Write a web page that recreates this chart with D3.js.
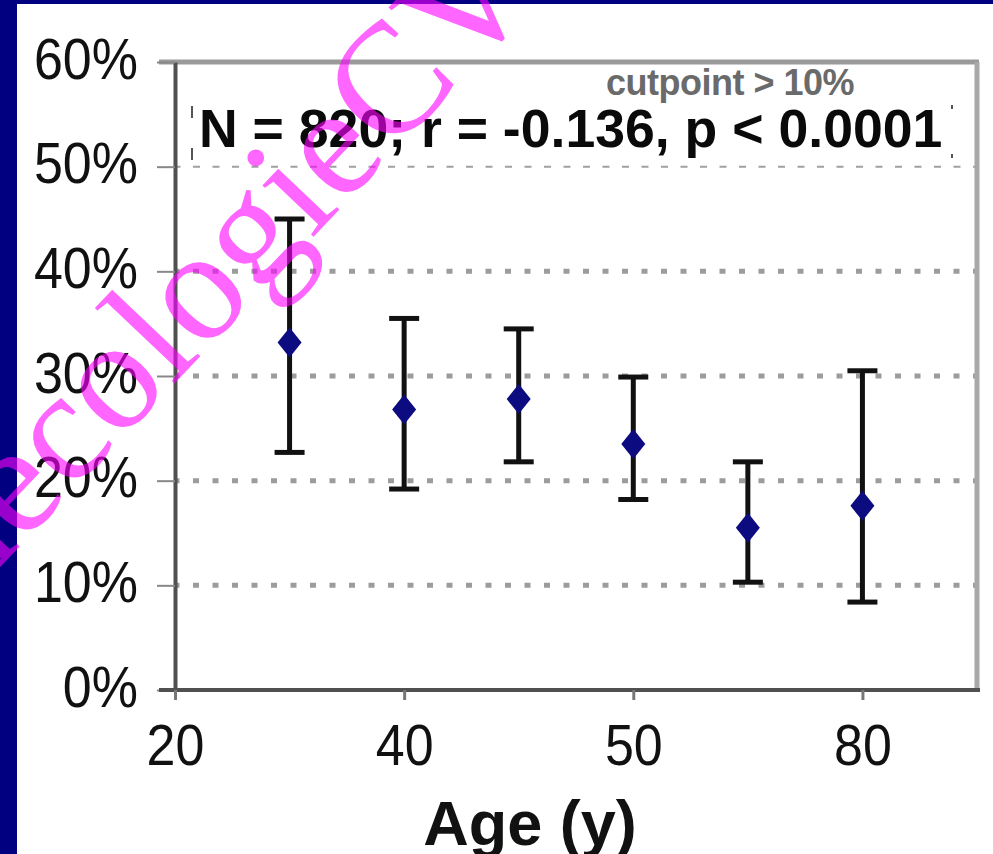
<!DOCTYPE html>
<html>
<head>
<meta charset="utf-8">
<script src="https://cdn.jsdelivr.net/npm/d3@7"></script>
<style>
  html, body { margin: 0; padding: 0; background: #000080; }
  svg { display: block; }
</style>
</head>
<body>
<script>
// data (percent)
var tickLabels = ["20", "40", "50", "80"];
var tickSlots = [0, 2, 4, 6];
var pointSlots = [1, 2, 3, 4, 5, 6];
var means = [33.2, 26.8, 27.8, 23.5, 15.5, 17.6];
var lows = [22.7, 19.2, 21.8, 18.2, 10.3, 8.4];
var highs = [45.0, 35.5, 34.5, 29.9, 21.8, 30.5];
var yTicks = [0, 10, 20, 30, 40, 50, 60];
var gridValues = [10, 20, 30, 40];
var statsText = "N = 820; r = -0.136, p < 0.0001";
var noteText = "cutpoint > 10%";
var xTitle = "Age (y)";

var W = 993, H = 854;
var plot = {left: 175, right: 977, top: 62, bottom: 690};

var x = d3.scaleLinear().domain([0, 7]).range([plot.left, plot.right]);
var y = d3.scaleLinear().domain([0, 60]).range([plot.bottom, plot.top]);

var svg = d3.select("body").append("svg")
    .attr("width", W)
    .attr("height", H);

// navy slide frame + white picture
svg.append("rect").attr("width", W).attr("height", H).attr("fill", "#000080");
svg.append("rect").attr("x", 17).attr("y", 4)
    .attr("width", W - 17).attr("height", H - 4).attr("fill", "#fff");

var font = "'Liberation Sans', Arial, sans-serif";

// dotted gridlines
svg.selectAll(".grid")
    .data(gridValues)
  .enter().append("line")
    .attr("x1", plot.left + 2).attr("x2", plot.right - 2)
    .attr("y1", function(d) { return y(d); })
    .attr("y2", function(d) { return y(d); })
    .attr("stroke", "#9c9c9c")
    .attr("stroke-width", 5)
    .attr("stroke-dasharray", "6,13.5")
    .attr("stroke-dashoffset", 3.5);

// the 50% line is thinner / lighter
svg.append("line")
    .attr("x1", plot.left + 2).attr("x2", plot.right - 2)
    .attr("y1", y(50)).attr("y2", y(50))
    .attr("stroke", "#a0a0a0")
    .attr("stroke-width", 2)
    .attr("stroke-dasharray", "7,12.5")
    .attr("stroke-dashoffset", 3.5);

// top and right frame
svg.append("line")
    .attr("x1", plot.left - 16).attr("x2", plot.right + 2)
    .attr("y1", plot.top).attr("y2", plot.top)
    .attr("stroke", "#9a9a9a").attr("stroke-width", 5);
svg.append("line")
    .attr("x1", plot.right).attr("x2", plot.right)
    .attr("y1", plot.top).attr("y2", plot.bottom)
    .attr("stroke", "#a8a8a8").attr("stroke-width", 5);

// y axis
var yAxis = svg.append("g")
    .attr("transform", "translate(" + plot.left + ",0)")
    .call(d3.axisLeft(y).tickValues(yTicks)
      .tickFormat(function(d) { return d + "%"; })
      .tickSize(18).tickSizeOuter(0).tickPadding(19));
yAxis.select(".domain").attr("stroke", "#505050").attr("stroke-width", 4);
yAxis.selectAll(".tick line").attr("stroke", "#888").attr("stroke-width", 2);
yAxis.selectAll(".tick text")
    .attr("font-family", font).attr("font-size", 52)
    .attr("fill", "#111")
    .attr("dy", "0.28em")
    .attr("transform", "scale(1,1.12)");

// x axis
var xAxis = svg.append("g")
    .attr("transform", "translate(0," + plot.bottom + ")")
    .call(d3.axisBottom(x).tickValues(tickSlots)
      .tickFormat(function(d, i) { return tickLabels[i]; })
      .tickSize(10).tickSizeOuter(0).tickPadding(20));
xAxis.select(".domain").attr("stroke", "#505050").attr("stroke-width", 4)
    .attr("d", "M" + (plot.left - 16) + ",0H" + (plot.right + 3));
xAxis.selectAll(".tick line").attr("stroke", "#777").attr("stroke-width", 3);
xAxis.selectAll(".tick text")
    .attr("font-family", font).attr("font-size", 52)
    .attr("fill", "#111")
    .attr("transform", "scale(1,1.12)");

// x title
svg.append("text")
    .attr("x", 530).attr("y", 845)
    .attr("text-anchor", "middle")
    .attr("font-family", font).attr("font-weight", "bold")
    .attr("font-size", 63).attr("fill", "#111")
    .text(xTitle);

// annotation box
svg.append("rect")
    .attr("x", 192).attr("y", 104).attr("width", 760).attr("height", 58)
    .attr("fill", "#fff");
[[192, 106, 118], [192, 148, 160], [952, 105, 109], [952, 154, 158]].forEach(function(s) {
  svg.append("line")
      .attr("x1", s[0]).attr("x2", s[0]).attr("y1", s[1]).attr("y2", s[2])
      .attr("stroke", "#555").attr("stroke-width", 2);
});
svg.append("text")
    .attr("x", 199).attr("y", 147)
    .attr("font-family", font).attr("font-weight", "bold")
    .attr("font-size", 53.6).attr("fill", "#0a0a0a")
    .text(statsText);

svg.append("text")
    .attr("x", 730).attr("y", 95)
    .attr("text-anchor", "middle")
    .attr("font-family", font).attr("font-weight", "bold")
    .attr("font-size", 36).attr("fill", "#6a6a6a")
    .attr("letter-spacing", -0.5)
    .text(noteText);

// error bars
var capW = 15;
var bars = svg.append("g");
pointSlots.forEach(function(s, i) {
  var cx = x(s);
  bars.append("line")
      .attr("x1", cx).attr("x2", cx)
      .attr("y1", y(lows[i])).attr("y2", y(highs[i]))
      .attr("stroke", "#111").attr("stroke-width", 5);
  [lows[i], highs[i]].forEach(function(v) {
    bars.append("line")
        .attr("x1", cx - capW).attr("x2", cx + capW)
        .attr("y1", y(v)).attr("y2", y(v))
        .attr("stroke", "#111").attr("stroke-width", 5);
  });
});

// diamond markers
svg.selectAll(".pt")
    .data(means)
  .enter().append("path")
    .attr("d", function(d, i) {
      var cx = x(pointSlots[i]), cy = y(d);
      return "M" + cx + "," + (cy - 15) + "L" + (cx + 12) + "," + cy +
             "L" + cx + "," + (cy + 15) + "L" + (cx - 12) + "," + cy + "Z";
    })
    .attr("fill", "#0c0c80");

// watermark
svg.append("text")
    .attr("transform", "translate(-33,602) rotate(-46.5)")
    .attr("font-family", "'Liberation Serif', 'Times New Roman', serif")
    .attr("font-size", 158)
    .attr("fill", "#ff00ff").attr("fill-opacity", 0.6)
    .text("necologieCV");
</script>
</body>
</html>
